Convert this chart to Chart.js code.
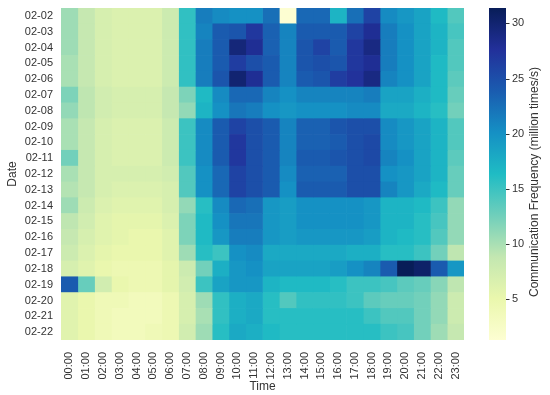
<!DOCTYPE html>
<html>
<head>
<meta charset="utf-8">
<script src="https://cdn.jsdelivr.net/npm/chart.js@4.4.1/dist/chart.umd.min.js"></script>
<style>
  html, body { margin: 0; padding: 0; background: #fff; }
  #wrap { width: 550px; height: 395px; }
</style>
</head>
<body>
<div id="wrap"><canvas id="heat" width="550" height="395"></canvas></div>
<script>
// --- Datos ---
const dates = ["02-02", "02-03", "02-04", "02-05", "02-06", "02-07", "02-08", "02-09", "02-10", "02-11", "02-12",
  "02-13", "02-14", "02-15", "02-16", "02-17", "02-18", "02-19", "02-20", "02-21", "02-22"];
const hours = ["00:00", "01:00", "02:00", "03:00", "04:00", "05:00", "06:00", "07:00", "08:00", "09:00", "10:00", "11:00",
  "12:00", "13:00", "14:00", "15:00", "16:00", "17:00", "18:00", "19:00", "20:00", "21:00", "22:00", "23:00"];

// una fila por fecha, una columna por hora (millones de veces/s)
const freq = [
  [10.5, 8.5, 7, 6.5, 6.5, 6.5, 8, 15.5, 21.5, 20.5, 20, 20, 22.5, 1.3, 23, 23, 17, 22.5, 26, 20.5, 19.5, 18.5, 16.5, 14],
  [10.5, 8.5, 7, 6.5, 6.5, 6.5, 8, 15.5, 21, 24, 24.5, 27, 23.5, 21, 24, 24, 24, 26, 28, 21.5, 20, 18.5, 17, 14.5],
  [10.5, 8.5, 7, 6.5, 6.5, 6.5, 8, 15.5, 21.5, 24, 29.5, 28, 23.5, 21, 24.5, 26, 24, 27, 29, 21.5, 20, 18.5, 17, 14],
  [10, 8.5, 7, 6.5, 6.5, 6.5, 8, 15.5, 21.5, 24, 26.5, 25, 24, 21, 24.5, 25, 24.5, 27, 28, 21.5, 20, 18.5, 16.5, 14],
  [10, 8.5, 7, 6.5, 6.5, 6.5, 8, 15.5, 21.5, 24.5, 30, 28, 24, 21, 24, 24.5, 26.5, 27.5, 29, 21, 20, 18.5, 16.5, 13.5],
  [12, 9, 7.5, 7, 7, 7, 8.5, 12, 16.5, 20.5, 23, 23, 21, 20, 21, 21, 21, 21, 21.5, 18.5, 18.5, 17.5, 16.5, 13],
  [11, 9, 7.5, 7, 7, 7, 8.5, 11, 17, 20, 22, 21.5, 20, 19.5, 20, 20, 20, 20.5, 20.5, 18, 18, 17, 16, 12.5],
  [10, 8.5, 7, 6.5, 6.5, 6.5, 8, 15, 20.5, 24, 26, 25, 24, 21, 23.5, 23.5, 24.5, 25, 25, 20.5, 19.5, 18.5, 17, 14],
  [10, 8.5, 7, 6.5, 6.5, 6.5, 8, 15, 20.5, 24, 27, 25, 24, 21, 23.5, 23.5, 24, 25, 25.5, 20.5, 19.5, 18.5, 17, 14],
  [12.5, 8.5, 7, 6.5, 6.5, 6.5, 8, 15, 20.5, 24, 27, 25, 24, 21, 24, 24, 24.5, 25, 25.5, 21, 20, 18.5, 17, 13.5],
  [10, 8.5, 7, 7, 7, 7, 7.5, 14, 20, 23, 26, 25, 24, 20.5, 23.5, 23.5, 23.5, 25, 25, 20, 19.5, 18.5, 17, 13],
  [9.5, 8.5, 7, 6.5, 6.5, 6.5, 7, 14, 20, 23, 26, 25, 24, 20, 24, 24, 24, 25, 25, 21, 19.5, 18, 16.5, 13],
  [10.5, 8, 6.5, 6, 6, 6, 7, 11, 16, 20.5, 23, 22.5, 19.5, 19, 20, 20, 20, 20, 19.5, 17, 17, 16.5, 15, 11],
  [9, 7.5, 6, 5.5, 5.5, 5.5, 6.5, 12, 16.5, 20, 22, 22, 19.5, 19, 20, 20, 20, 20, 19.5, 17, 17, 16, 14.5, 11],
  [8.5, 7, 6, 5.5, 5, 5, 6, 12, 16.5, 19.5, 21.5, 21.5, 19.5, 19, 19.5, 19.5, 19.5, 19.5, 19, 17, 16.5, 16, 14, 11],
  [8, 6.5, 5.5, 5, 5, 5, 6, 10.5, 16, 15, 20, 20.5, 18, 18, 18, 18, 18, 17.5, 17.5, 16, 16, 15, 12.5, 9],
  [7, 6, 5, 4.5, 4.5, 4.5, 5.5, 8, 12.5, 17.5, 19.5, 20, 18.5, 18.5, 18.5, 18.5, 19, 20, 21, 24, 31.4, 30.5, 24, 19.5],
  [24, 13, 7.5, 5, 4.5, 4.5, 5.5, 7.5, 15, 18.5, 19.5, 19.5, 17, 16.5, 16.5, 16.5, 16, 15, 15, 14.5, 13.5, 13, 11.5, 9],
  [6, 5, 4, 4, 3.5, 3.5, 4.5, 7, 10.5, 15.5, 17.5, 18, 16, 14, 15.5, 15.5, 15.5, 15, 13.5, 13, 13, 12.5, 11, 8],
  [6, 5, 4, 3.5, 3.5, 3.5, 4.5, 7, 10, 15.5, 17.5, 18, 16, 16, 16, 16, 16, 16, 15, 14, 14, 12.5, 11, 8],
  [6, 5, 4, 3.5, 3.5, 4, 4.5, 7.5, 10.5, 16, 18, 17.5, 16.5, 16, 16, 16, 16, 16, 16, 15, 14.5, 12.5, 10.5, 8.5],
];

const cbTicks = [5, 10, 15, 20, 25, 30];
const vmin = 1.3;
const vmax = 31.4;

// --- Colores (YlGnBu, algo más saturado como en la imagen) ---
const ylgnbu = ["#fdfed2", "#eaf7ad", "#c3e7b1", "#70cfbb", "#1fbcc4", "#1590c4", "#1a5cb0", "#22309a", "#081d58"];
const textColor = "#333";
const fontFamily = "'Liberation Sans', Arial, sans-serif";

function hexToRgb(h) {
  return [1, 3, 5].map((i) => parseInt(h.slice(i, i + 2), 16));
}

function cmap(v) {
  let t = (v - vmin) / (vmax - vmin);
  t = Math.max(0, Math.min(1, t)) * (ylgnbu.length - 1);
  const i = Math.min(Math.floor(t), ylgnbu.length - 2);
  const f = t - i;
  const a = hexToRgb(ylgnbu[i]);
  const b = hexToRgb(ylgnbu[i + 1]);
  const c = a.map((x, k) => Math.round(x + (b[k] - x) * f));
  return `rgb(${c[0]}, ${c[1]}, ${c[2]})`;
}

// una serie por hora: barra flotante [h, h+1] en cada fecha
const datasets = hours.map((h, j) => ({
  label: h,
  data: dates.map(() => [j, j + 1]),
  backgroundColor: freq.map((row) => cmap(row[j])),
  borderWidth: 0,
  barPercentage: 1,
  categoryPercentage: 1,
}));

// barra de color a la derecha, usando la escala "cb"
const colorbarPlugin = {
  id: "colorbar",
  afterDraw(chart) {
    const s = chart.scales.cb;
    const ctx = chart.ctx;
    const x0 = s.left + 25;
    const w = 17;
    const grad = ctx.createLinearGradient(0, s.getPixelForValue(vmin), 0, s.getPixelForValue(vmax));
    ylgnbu.forEach((c, i) => grad.addColorStop(i / (ylgnbu.length - 1), c));
    ctx.save();
    ctx.fillStyle = grad;
    ctx.fillRect(x0, s.top, w, s.bottom - s.top);

    ctx.strokeStyle = textColor;
    ctx.lineWidth = 1;
    cbTicks.forEach((t) => {
      const y = Math.round(s.getPixelForValue(t)) + 0.5;
      ctx.beginPath();
      ctx.moveTo(x0 + w, y);
      ctx.lineTo(x0 + w + 3.5, y);
      ctx.stroke();
    });

    ctx.translate(s.left + 71, (s.top + s.bottom) / 2 + 8);
    ctx.rotate(-Math.PI / 2);
    ctx.font = `12px ${fontFamily}`;
    ctx.fillStyle = textColor;
    ctx.textAlign = "center";
    ctx.textBaseline = "middle";
    ctx.fillText("Communication Frequency (million times/s)", 0, 0);
    ctx.restore();
  },
};

Chart.defaults.font.family = fontFamily;
Chart.defaults.font.size = 11;
Chart.defaults.color = textColor;

// marcas de eje invisibles: sólo separan las etiquetas del mapa
const hiddenTicks = (len) => ({
  display: true,
  drawOnChartArea: false,
  drawTicks: true,
  tickLength: len,
  offset: false,
  color: "rgba(0,0,0,0)",
});

new Chart(document.getElementById("heat"), {
  type: "bar",
  data: { labels: dates, datasets: datasets },
  options: {
    indexAxis: "y",
    responsive: false,
    animation: false,
    devicePixelRatio: 1,
    layout: { padding: { top: 8, left: 0, right: 0, bottom: 0 } },
    plugins: {
      legend: { display: false },
      tooltip: { enabled: false },
    },
    scales: {
      x: {
        type: "linear",
        min: 0,
        max: 24,
        offset: false,
        grid: hiddenTicks(12),
        border: { display: false },
        afterBuildTicks: (scale) => {
          scale.ticks = hours.map((h, i) => ({ value: i + 0.5 }));
        },
        afterFit: (scale) => {
          scale.height = 55;
        },
        ticks: {
          autoSkip: false,
          maxRotation: 90,
          minRotation: 90,
          padding: 0,
          callback: (v, i) => hours[i],
        },
        title: { display: true, text: "Time", font: { size: 12 }, padding: { top: 0, bottom: 1 } },
      },
      y: {
        type: "category",
        stacked: true,
        offset: true,
        grid: hiddenTicks(8),
        border: { display: false },
        afterFit: (scale) => {
          scale.width = 61;
        },
        ticks: { padding: 0, autoSkip: false },
        title: { display: true, text: "Date", font: { size: 12 }, padding: { top: 5, bottom: 0 } },
      },
      cb: {
        type: "linear",
        axis: "y",
        position: "right",
        min: vmin,
        max: vmax,
        offset: false,
        grid: hiddenTicks(48),
        border: { display: false },
        afterBuildTicks: (scale) => {
          scale.ticks = cbTicks.map((v) => ({ value: v }));
        },
        afterFit: (scale) => {
          scale.width = 86;
        },
        ticks: { padding: 0 },
      },
    },
  },
  plugins: [colorbarPlugin],
});
</script>
</body>
</html>
